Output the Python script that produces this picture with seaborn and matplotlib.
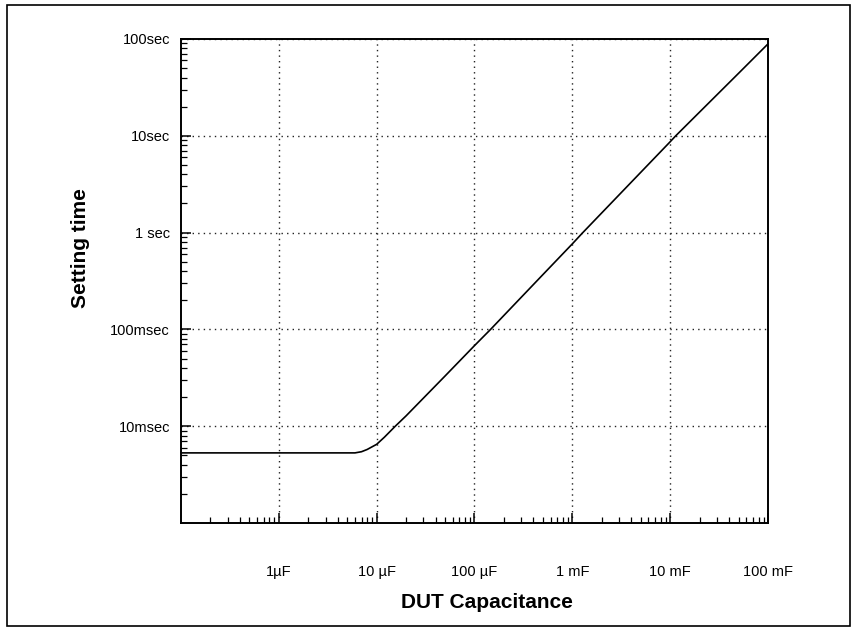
import matplotlib
matplotlib.use("Agg")
import matplotlib.pyplot as plt
import seaborn as sns
import pandas as pd
from matplotlib.patches import Rectangle
from matplotlib.ticker import LogLocator, NullFormatter, FixedLocator, FixedFormatter

# ---- data (capacitance in µF, settling time in ms)
capacitance_uF = [0.1, 1, 6, 7, 8, 10, 12, 15.5, 20, 50, 100, 146, 500,
                  1000, 1280, 5000, 10000, 11400, 50000, 100000]
settling_ms = [5.3, 5.3, 5.3, 5.45, 5.75, 6.5, 7.7, 10, 12.8, 33, 68, 100, 368,
               765, 1000, 4190, 8680, 10000, 44200, 89000]

x_tick_values_F = [1e-6, 1e-5, 1e-4, 1e-3, 1e-2, 1e-1]
x_tick_labels = ["1\u00b5F", "10 \u00b5F", "100 \u00b5F", "1 mF", "10 mF", "100 mF"]
y_tick_values_s = [1e-2, 1e-1, 1, 10, 100]
y_tick_labels = ["10msec", "100msec", "1 sec", "10sec", "100sec"]

df = pd.DataFrame({
    "C": [c * 1e-6 for c in capacitance_uF],
    "t": [v * 1e-3 for v in settling_ms],
})

sns.set_theme(style="white")
plt.rcParams["font.family"] = ["Liberation Sans", "DejaVu Sans"]
plt.rcParams["text.color"] = "black"
plt.rcParams["xtick.color"] = "black"
plt.rcParams["ytick.color"] = "black"

fig = plt.figure(figsize=(8.59, 6.34), dpi=100)
ax = fig.add_axes([181 / 859, 1 - 523 / 634, (768 - 181) / 859, (523 - 39) / 634])

sns.lineplot(data=df, x="C", y="t", ax=ax, color="black", linewidth=1.2)

ax.set_xscale("log")
ax.set_yscale("log")
ax.set_xlim(1e-7, 1e-1)
ax.set_ylim(1e-3, 100)

ax.xaxis.set_major_locator(FixedLocator(x_tick_values_F))
ax.xaxis.set_major_formatter(FixedFormatter(x_tick_labels))
ax.yaxis.set_major_locator(FixedLocator(y_tick_values_s))
ax.yaxis.set_major_formatter(FixedFormatter(y_tick_labels))
ax.xaxis.set_minor_locator(LogLocator(base=10, subs=range(2, 10), numticks=20))
ax.yaxis.set_minor_locator(LogLocator(base=10, subs=range(2, 10), numticks=20))
ax.xaxis.set_minor_formatter(NullFormatter())
ax.yaxis.set_minor_formatter(NullFormatter())

ax.grid(True, which="major", linestyle=(0, (1, 3)), color="#222222", linewidth=1.0)
ax.tick_params(axis="both", which="both", bottom=True, left=True, top=False, right=False)
ax.tick_params(axis="both", which="major", direction="in", length=7, width=1.1,
               colors="black", labelcolor="black", labelsize=10.5)
ax.tick_params(axis="both", which="minor", direction="in", length=4, width=0.9,
               colors="black")
ax.tick_params(axis="x", which="major", pad=30)
ax.tick_params(axis="y", which="major", pad=8)
for sp in ax.spines.values():
    sp.set_color("black")
    sp.set_linewidth(1.4)

ax.set_xlabel("")
ax.set_ylabel("")
fig.text(487 / 859, 1 - 603 / 634, "DUT Capacitance", ha="center", va="center",
         fontsize=15, fontweight="bold", color="black")
fig.text(80 / 859, 1 - 248 / 634, "Setting time", ha="center", va="center",
         rotation=90, fontsize=15, fontweight="bold", color="black")

fig.patches.append(Rectangle((7 / 859, 1 - 626 / 634), (850 - 7) / 859, (626 - 5) / 634,
                             transform=fig.transFigure, fill=False,
                             edgecolor="black", linewidth=1.2))

fig.savefig("out.png", dpi=100, facecolor="white")
